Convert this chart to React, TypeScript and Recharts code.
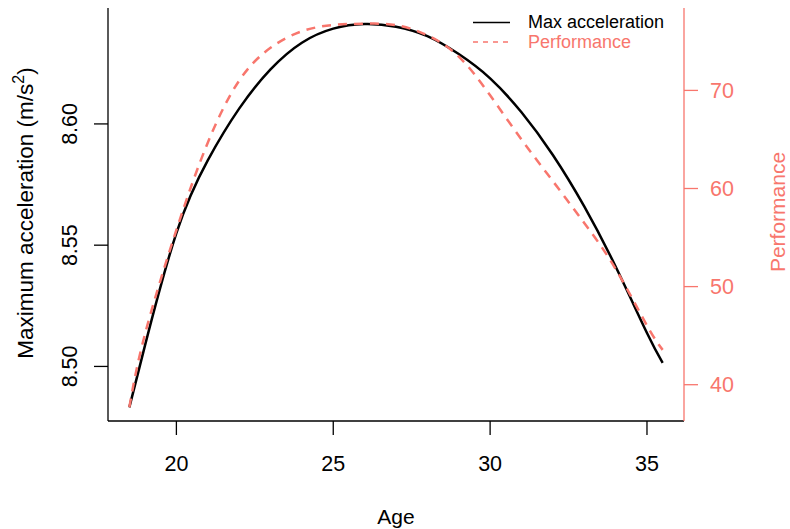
import { ComposedChart, Customized, Line, XAxis, YAxis } from "recharts";

const ages = [18.5, 19, 20, 21, 22, 23, 24, 25, 26, 27, 28, 29, 30, 31, 32, 33, 34, 35, 35.5];
const maxAccel = [
  8.4831, 8.5087, 8.555, 8.585, 8.6063, 8.6225, 8.6335, 8.6393, 8.6412, 8.6401, 8.6362, 8.6288, 8.6188,
  8.6048, 8.5872, 8.566, 8.5412, 8.5138, 8.5015,
];
const performance = [
  37.7, 45.17, 55.77, 64.67, 70.99, 74.34, 76.03, 76.67, 76.8, 76.66, 75.61, 73.45, 69.5, 65.0, 60.75,
  56.49, 51.8, 46.03, 43.55,
];
const ageTicks = [20, 25, 30, 35];
const accelTicks = [8.5, 8.55, 8.6];
const perfTicks = [40, 50, 60, 70];

const rows = ages.map((age, i) => ({ age, accel: maxAccel[i], perf: performance[i] }));

const RED = "#F8766D";
const FONT = "'Liberation Sans', Arial, Helvetica, sans-serif";
const TICK_FS = 21.5;

// подписи тиков как в base R: слева повернуты на 90°
function LeftTick({ y, payload }: any) {
  return (
    <text x={77} y={y} transform={`rotate(-90, 77, ${y})`} textAnchor="middle" fontSize={TICK_FS} fontFamily={FONT} fill="#000">
      {Number(payload.value).toFixed(2)}
    </text>
  );
}

function RightTick({ y, payload }: any) {
  return (
    <text x={722} y={y + 7.7} textAnchor="middle" fontSize={TICK_FS} fontFamily={FONT} fill={RED}>
      {payload.value}
    </text>
  );
}

function BottomTick({ x, payload }: any) {
  return (
    <text x={x} y={470.5} textAnchor="middle" fontSize={TICK_FS} fontFamily={FONT} fill="#000">
      {payload.value}
    </text>
  );
}

function Titles() {
  return (
    <g fontFamily={FONT}>
      <text x={396} y={524} textAnchor="middle" fontSize={21} fill="#000">
        Age
      </text>
      <text x={32.5} y={213} transform="rotate(-90, 32.5, 213)" textAnchor="middle" fontSize={22.5} fill="#000">
        Maximum acceleration (m/s
        <tspan fontSize={16} dy={-9}>
          2
        </tspan>
        <tspan dy={9}>)</tspan>
      </text>
      <text x={785} y={212} transform="rotate(-90, 785, 212)" textAnchor="middle" fontSize={21} fill={RED}>
        Performance
      </text>
      {/* легенда */}
      <line x1={473} x2={510} y1={22.5} y2={22.5} stroke="#000" strokeWidth={1.5} />
      <line x1={473} x2={510} y1={42} y2={42} stroke={RED} strokeWidth={1.5} strokeDasharray="5 5" />
      <text x={528} y={28} fontSize={18} fill="#000">
        Max acceleration
      </text>
      <text x={528} y={48} fontSize={18} fill={RED}>
        Performance
      </text>
    </g>
  );
}

export default function App() {
  return (
    <div style={{ position: "absolute", left: 0, top: 0, width: 790, height: 529, background: "#fff" }}>
      <ComposedChart width={790} height={529} data={rows} margin={{ top: 8, right: 0, bottom: 0, left: 0 }}>
        <XAxis
          dataKey="age"
          type="number"
          domain={[17.82, 36.18]}
          ticks={ageTicks}
          height={108}
          tickSize={14}
          axisLine={{ stroke: "#000", strokeWidth: 1.3 }}
          tickLine={{ stroke: "#000", strokeWidth: 1.3 }}
          tick={<BottomTick />}
          allowDataOverflow
        />
        <YAxis
          yAxisId="acc"
          domain={[8.4775, 8.6478]}
          ticks={accelTicks}
          width={108}
          tickSize={14}
          axisLine={{ stroke: "#000", strokeWidth: 1.3 }}
          tickLine={{ stroke: "#000", strokeWidth: 1.3 }}
          tick={<LeftTick />}
          allowDataOverflow
        />
        <YAxis
          yAxisId="perf"
          orientation="right"
          domain={[36.3, 78.4]}
          ticks={perfTicks}
          width={106}
          tickSize={14}
          axisLine={{ stroke: RED, strokeWidth: 1.3 }}
          tickLine={{ stroke: RED, strokeWidth: 1.3 }}
          tick={<RightTick />}
          allowDataOverflow
        />
        <Line
          yAxisId="acc"
          dataKey="accel"
          type="natural"
          stroke="#000"
          strokeWidth={2.5}
          dot={false}
          isAnimationActive={false}
        />
        <Line
          yAxisId="perf"
          dataKey="perf"
          type="natural"
          stroke={RED}
          strokeWidth={2.5}
          strokeDasharray="9 7"
          dot={false}
          isAnimationActive={false}
        />
        <Customized component={Titles} />
      </ComposedChart>
    </div>
  );
}
